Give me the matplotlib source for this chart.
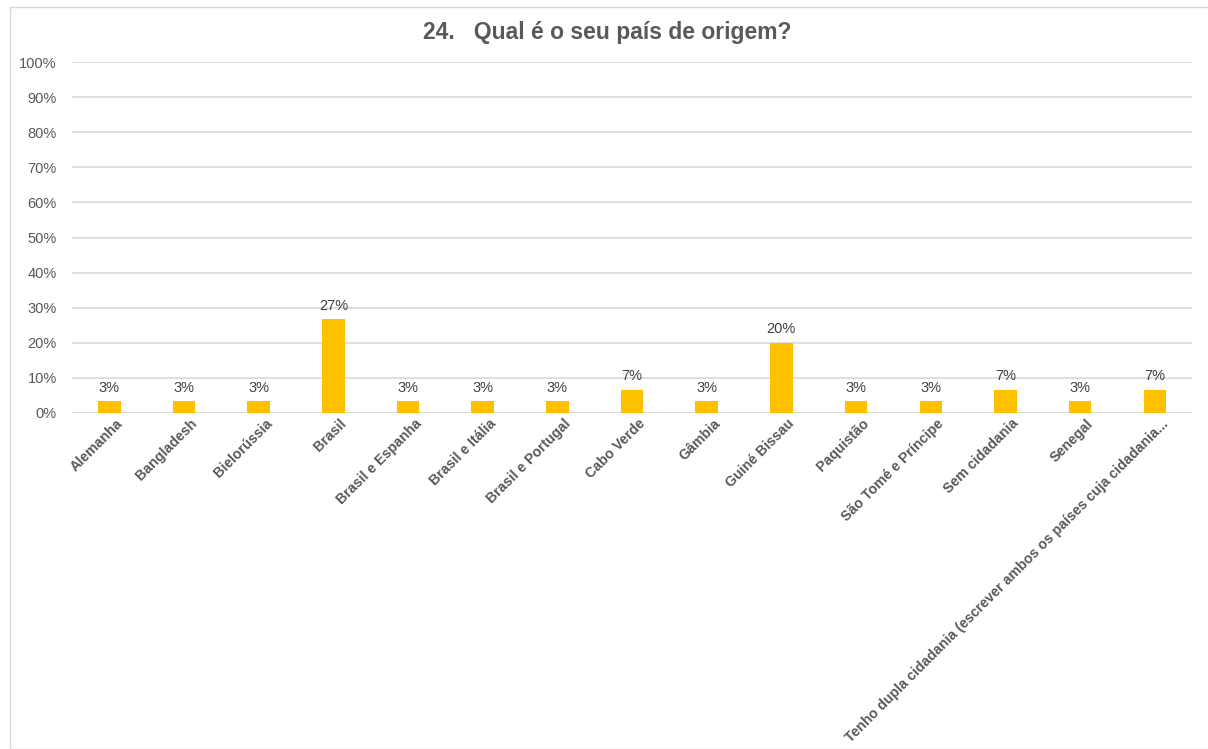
import matplotlib.pyplot as plt
from matplotlib.patches import Rectangle
from matplotlib.ticker import PercentFormatter

plt.rcParams['font.family'] = ['Liberation Sans', 'DejaVu Sans']

paises = ['Alemanha', 'Bangladesh', 'Bielorússia', 'Brasil', 'Brasil e Espanha',
          'Brasil e Itália', 'Brasil e Portugal', 'Cabo Verde', 'Gâmbia',
          'Guiné Bissau', 'Paquistão', 'São Tomé e Príncipe', 'Sem cidadania',
          'Senegal', 'Tenho dupla cidadania (escrever ambos os países cuja cidadania...']
respostas = [1, 1, 1, 8, 1, 1, 1, 2, 1, 6, 1, 1, 2, 1, 2]
total = 30
percent = [100 * r / total for r in respostas]

fig = plt.figure(figsize=(12.08, 7.49), dpi=100)
ax = fig.add_axes([0.0596, 0.4486, 0.9272, 0.4686])

x = range(len(paises))
bars = ax.bar(x, percent, width=0.3, color='#ffc000', zorder=3)
for b, p in zip(bars, percent):
    ax.text(b.get_x() + b.get_width() / 2, p + 1.8, f'{p:.0f}%', ha='center',
            va='bottom', fontsize=10.5, color='#404040')

# category labels, rotated 45 degrees
for i, nome in zip(x, paises):
    ax.annotate(nome, xy=(i, 0), xycoords=('data', 'axes fraction'),
                xytext=(4.5, -2.5), textcoords='offset points', rotation=45,
                ha='right', va='top', rotation_mode='anchor',
                fontsize=10.2, fontweight='bold', color='#595959')

ax.set_xlim(-0.5, len(paises) - 0.5)
ax.set_ylim(0, 100)
ax.set_yticks(range(0, 101, 10))
ax.yaxis.set_major_formatter(PercentFormatter(decimals=0))
ax.grid(axis='y', color='#d9d9d9', linewidth=1.2, zorder=0)
ax.set_xticks([])
ax.tick_params(axis='y', labelsize=10.5, labelcolor='#595959', length=0, pad=11)
for s in ax.spines.values():
    s.set_visible(False)
ax.axhline(0, color='#d9d9d9', linewidth=1.2, zorder=1)

fig.text(0.503, 0.957, '24.   Qual é o seu país de origem?', ha='center', va='center',
         fontsize=16.5, fontweight='bold', color='#595959')

fig.patches.append(Rectangle((10 / 1208, 0), 1, 1 - 7 / 749, transform=fig.transFigure,
                             fill=False, edgecolor='#d9d9d9', linewidth=1))

fig.savefig('out.png', dpi=100)
